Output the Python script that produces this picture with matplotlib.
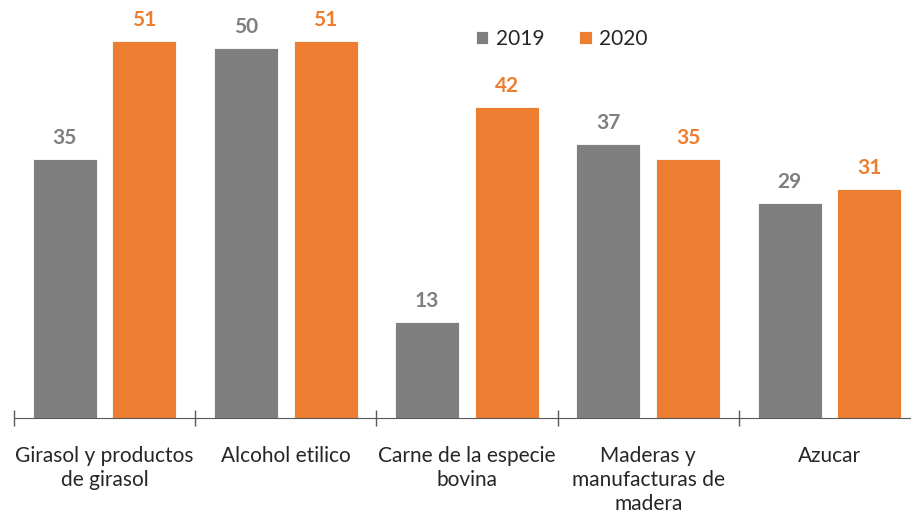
import numpy as np
import matplotlib
matplotlib.use("Agg")
from matplotlib import pyplot as plt

categories = ["Girasol y productos\nde girasol", "Alcohol etilico",
              "Carne de la especie\nbovina", "Maderas y\nmanufacturas de\nmadera", "Azucar"]
v2019 = [35, 50, 13, 37, 29]
v2020 = [51, 51, 42, 35, 31]
series = ["2019", "2020"]

gris = "#7f7f7f"
naranja = "#ed7d31"

plt.rcParams["font.family"] = ["Lato", "DejaVu Sans"]

fig = plt.figure(figsize=(9.12, 5.14), dpi=100)
ax = fig.add_axes([14 / 912, 96 / 514, 906 / 912, 418 / 514])

x = np.arange(len(categories))
w = 0.353
off = 0.22
b1 = ax.bar(x - off, v2019, w, color=gris, label=series[0], edgecolor="white", linewidth=0.6)
b2 = ax.bar(x + off, v2020, w, color=naranja, label=series[1], edgecolor="white", linewidth=0.6)

ax.bar_label(b1, padding=8, color=gris, fontsize=15, fontweight="bold")
ax.bar_label(b2, padding=8, color=naranja, fontsize=15, fontweight="bold")

ax.set_xlim(-0.5, len(categories) - 0.5)
ax.set_ylim(0, 56.5)
ax.set_yticks([])
for s in ["top", "right", "left"]:
    ax.spines[s].set_visible(False)
ax.spines["bottom"].set_color("#595959")

# marcas entre grupos
ax.set_xticks(np.arange(len(categories) + 1) - 0.5)
ax.set_xticklabels([])
ax.tick_params(axis="x", direction="inout", length=11, width=1, color="#595959")
ax.set_xticks(x, minor=True)
ax.set_xticklabels(categories, minor=True, fontsize=15, color="#262626", linespacing=1.25)
ax.tick_params(axis="x", which="minor", length=0, pad=20)

ax.legend(loc="upper left", bbox_to_anchor=(443 / 906, 1 - 10 / 418), ncol=2, frameon=False,
          fontsize=15, handlelength=0.6, handleheight=0.6, columnspacing=1.7,
          handletextpad=0.35, labelcolor="#262626")

plt.savefig("out.png", dpi=100)
